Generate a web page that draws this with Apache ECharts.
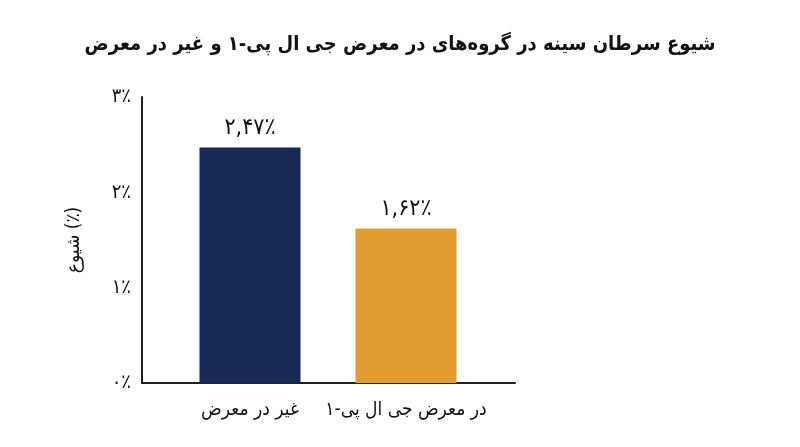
<!DOCTYPE html>
<html>
<head>
<meta charset="UTF-8">
<title>شیوع سرطان سینه</title>
<script src="https://cdn.jsdelivr.net/npm/echarts@6/dist/echarts.min.js"></script>
<style>
  html, body { margin: 0; padding: 0; background: #fff; }
  #main { width: 800px; height: 447px; }
</style>
</head>
<body>
<div id="main"></div>
<script>
  // data
  var categories = ['غیر در معرض', 'در معرض جی ال پی-۱'];
  var values = [2.47, 1.62];
  var barColors = ['#172a55', '#e39c30'];
  var yTicks = [0, 1, 2, 3];

  var font = "'DejaVu Sans Condensed', 'DejaVu Sans', sans-serif";
  var faDigits = '۰۱۲۳۴۵۶۷۸۹';
  function toFa(s) {
    return String(s).replace(/[0-9]/g, function (d) { return faDigits[+d]; }).replace('.', ',');
  }

  var chart = echarts.init(document.getElementById('main'), null, { renderer: 'canvas' });

  var option = {
    backgroundColor: '#fff',
    animation: false,
    title: {
      text: 'شیوع سرطان سینه در گروه‌های در معرض جی ال پی-۱ و غیر در معرض',
      left: 'center',
      top: 30,
      textStyle: { fontFamily: font, fontSize: 20, fontWeight: 'bold', color: '#111' }
    },
    grid: [
      { left: 142, right: 285, top: 97, bottom: 64 },
      { left: 172, right: 316, top: 97, bottom: 64 }
    ],
    xAxis: [
      {
        type: 'category', gridIndex: 0, data: [''],
        axisLine: { lineStyle: { color: '#222', width: 2 } },
        axisTick: { show: false }, axisLabel: { show: false }
      },
      {
        type: 'category', gridIndex: 1, data: categories,
        axisLine: { show: false }, axisTick: { show: false },
        axisLabel: { interval: 0, fontFamily: font, fontSize: 19, color: '#111', margin: 18 }
      }
    ],
    yAxis: [
      {
        type: 'value', gridIndex: 0, min: yTicks[0], max: yTicks[yTicks.length - 1], interval: 1,
        name: 'شیوع (٪)', nameLocation: 'middle', nameGap: 58,
        nameTextStyle: { fontFamily: font, fontSize: 19, color: '#111' },
        axisLine: { show: true, lineStyle: { color: '#222', width: 2 } },
        axisTick: { show: false },
        splitLine: { show: false },
        axisLabel: {
          fontFamily: font, fontSize: 20, color: '#111', margin: 11,
          formatter: function (v) { return toFa(v) + '٪'; }
        }
      },
      {
        type: 'value', gridIndex: 1, min: yTicks[0], max: yTicks[yTicks.length - 1], interval: 1,
        show: false
      }
    ],
    series: [{
      type: 'bar',
      xAxisIndex: 1, yAxisIndex: 1,
      barWidth: 101,
      data: values.map(function (v, i) {
        return { value: v, itemStyle: { color: barColors[i] } };
      }),
      label: {
        show: true, position: 'top', distance: 8,
        fontFamily: font, fontSize: 23, color: '#111',
        formatter: function (p) { return toFa(p.value.toFixed(2)) + '٪'; }
      }
    }]
  };

  chart.setOption(option);
</script>
</body>
</html>
